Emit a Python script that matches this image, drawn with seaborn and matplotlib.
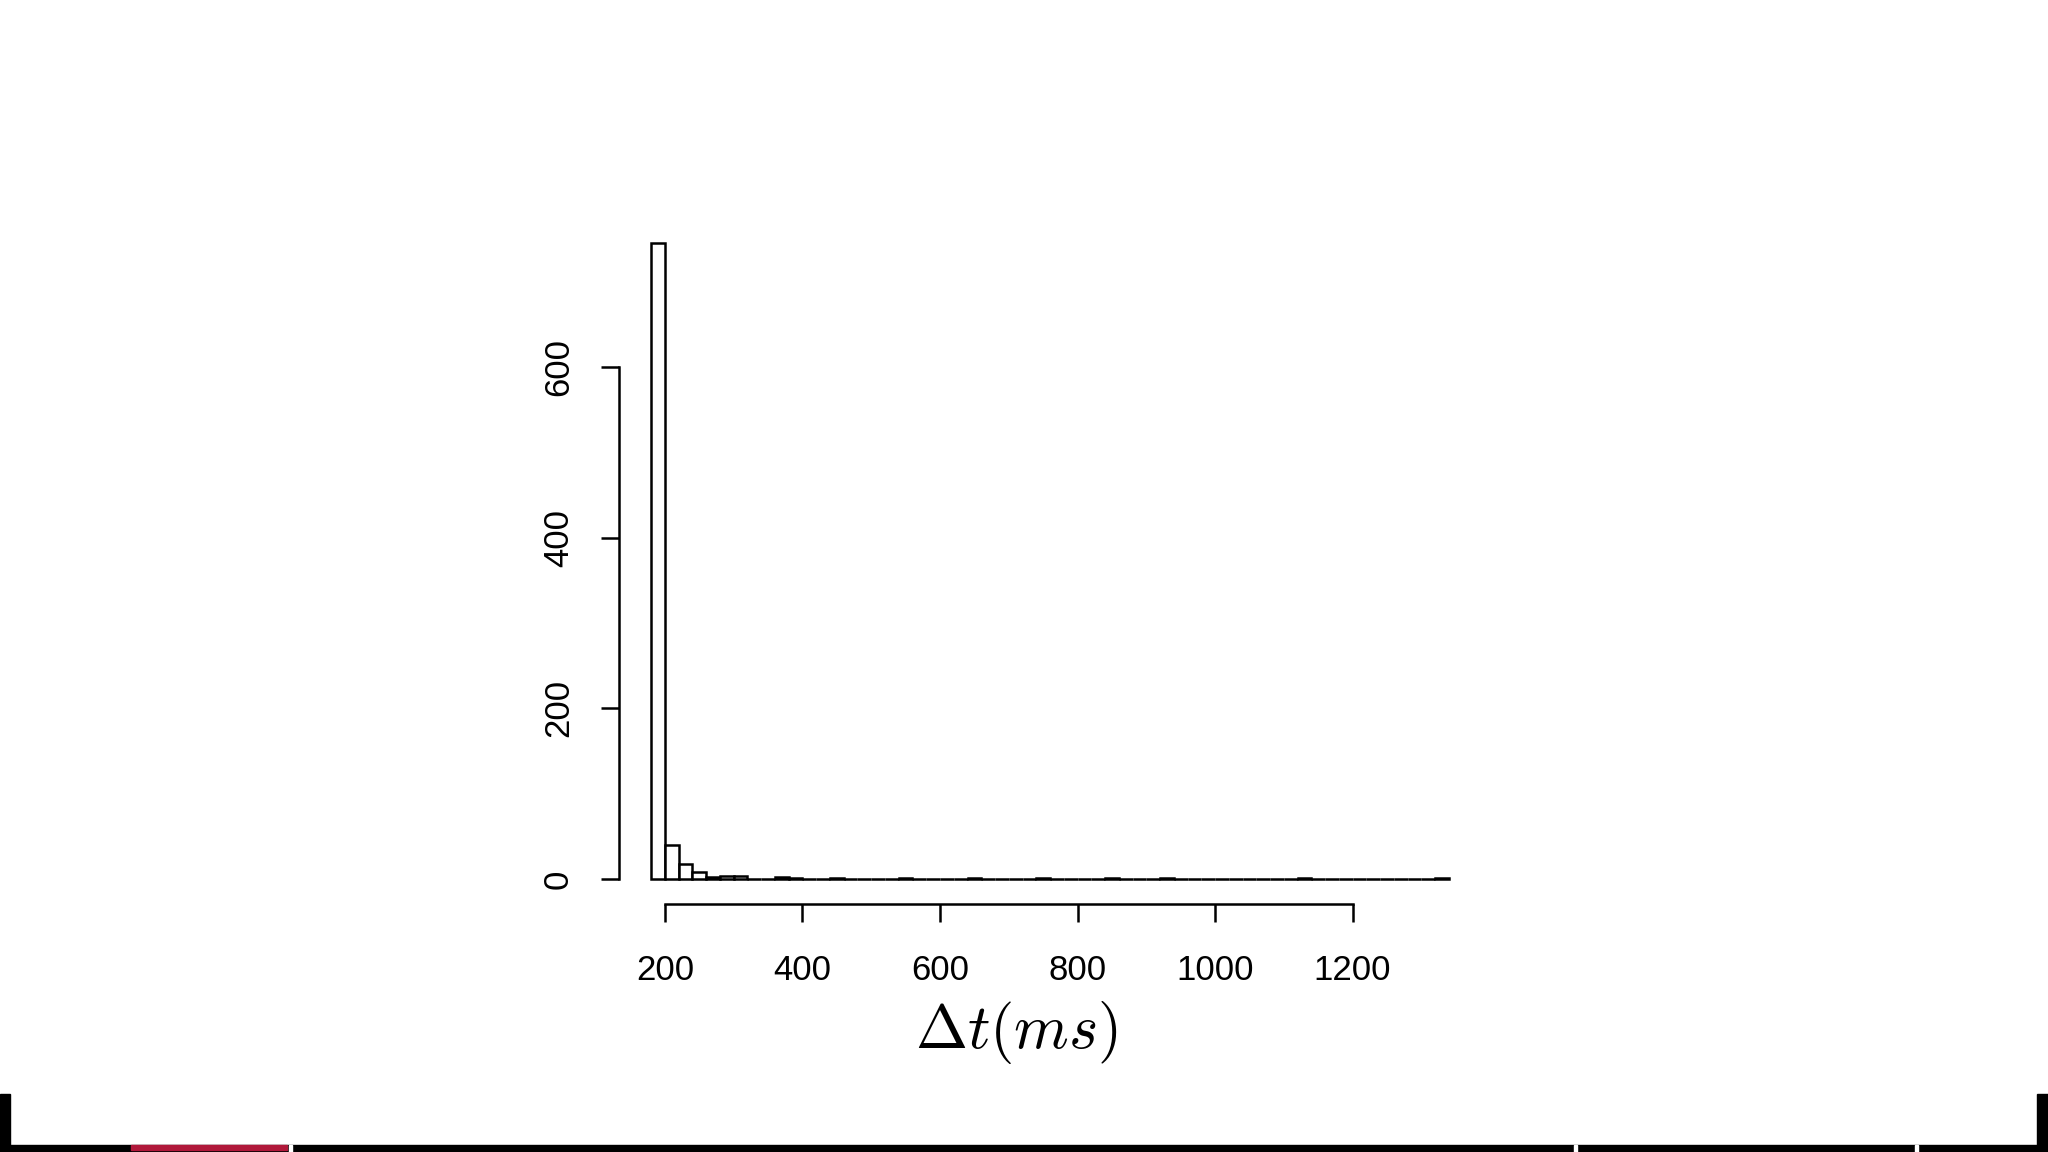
import numpy as np
import pandas as pd
import matplotlib
matplotlib.use("Agg")
import matplotlib.pyplot as plt
from matplotlib.patches import Rectangle
import seaborn as sns

# histogram of delta t, 20 ms bins from 180 to 1340 (only non-empty bins listed)
bin_start = [180, 200, 220, 240, 260, 280, 300, 360, 380, 440, 540, 640, 740, 840, 920, 1120, 1320]
counts = [745, 40, 18, 8, 2, 4, 4, 2, 1, 1, 1, 1, 1, 1, 1, 1, 1]
bin_width = 20
x_range = (180, 1340)

x_ticks = [200, 400, 600, 800, 1000, 1200]
y_ticks = [0, 200, 400, 600]
x_label = r"$\Delta t(ms)$"

df = pd.DataFrame({"dt": np.array(bin_start) + bin_width / 2, "n": counts})

sns.set_style("ticks")
plt.rcParams["font.family"] = ["Liberation Sans", "DejaVu Sans"]
plt.rcParams["mathtext.fontset"] = "cm"

fig = plt.figure(figsize=(20.48, 11.52), dpi=100)
ax = fig.add_axes([0.3024, 0.2149, 0.4206, 0.5959])

sns.histplot(data=df, x="dt", weights="n", binwidth=bin_width, binrange=x_range,
             color="white", edgecolor="black", linewidth=1.8, alpha=1, ax=ax)

# R-style limits: 4% padding on each side
xpad = 0.04 * (x_range[1] - x_range[0])
ax.set_xlim(x_range[0] - xpad, x_range[1] + xpad)
ymax = max(counts)
ax.set_ylim(-0.04 * ymax, 1.04 * ymax)
ax.set_xticks(x_ticks)
ax.set_yticks(y_ticks)
sns.despine(ax=ax, trim=True)

for s in ["left", "bottom"]:
    ax.spines[s].set_linewidth(1.8)
    ax.spines[s].set_color("black")

ax.tick_params(length=13, width=1.8, labelsize=25, color="black",
               labelcolor="black", direction="out")
ax.tick_params(axis="x", pad=23)
ax.tick_params(axis="y", pad=19, labelrotation=90)
for lbl in ax.get_yticklabels():
    lbl.set_va("center")

ax.set_ylabel("")
ax.set_xlabel(x_label, fontsize=45, va="center", color="black")
ax.xaxis.set_label_coords(0.4617, -0.186)

# slide frame at the bottom
H = 1152
W = 2048
fig.add_artist(Rectangle((0, 0), 1, 7 / H, transform=fig.transFigure, color="black"))
fig.add_artist(Rectangle((0, 0), 10 / W, 58 / H, transform=fig.transFigure, color="black"))
fig.add_artist(Rectangle((1 - 11 / W, 0), 11 / W, 58 / H, transform=fig.transFigure, color="black"))
fig.add_artist(Rectangle((131 / W, 2 / H), 156 / W, 5 / H, transform=fig.transFigure, color="#b0183a"))
for gx in [289, 1574, 1915]:
    fig.add_artist(Rectangle((gx / W, 0), 3 / W, 7 / H, transform=fig.transFigure, color="white"))

fig.savefig("out.png", dpi=100)
